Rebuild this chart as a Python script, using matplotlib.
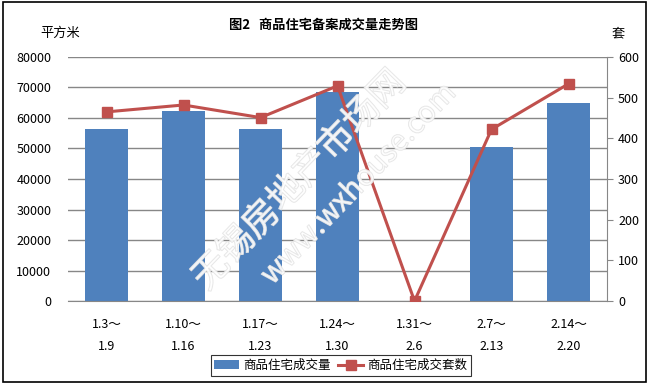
import matplotlib.pyplot as plt
import matplotlib.patheffects as pe
from matplotlib.patches import Rectangle

plt.rcParams['font.family'] = ['Noto Sans CJK SC', 'DejaVu Sans']

# data
weeks = ['1.3～\n1.9', '1.10～\n1.16', '1.17～\n1.23', '1.24～\n1.30',
         '1.31～\n2.6', '2.7～\n2.13', '2.14～\n2.20']
area = [56500, 62300, 56400, 68600, 0, 50500, 65000]
units = [465, 482, 451, 529, 0, 422, 534]

bar_color = '#4F81BD'
line_color = '#C0504D'
grid_color = '#878787'

fig = plt.figure(figsize=(6.49, 3.84), dpi=100)
ax = fig.add_axes([0.1048, 0.2161, 0.8305, 0.6355])
ax2 = ax.twinx()

x = range(len(weeks))
ax.bar(x, area, width=0.57, color=bar_color, zorder=2, label='商品住宅成交量')
ax2.plot(x, units, color=line_color, lw=2.2, marker='s', ms=7,
         label='商品住宅成交套数', zorder=3)

ax.set_xlim(-0.5, len(weeks) - 0.5)
ax.set_ylim(0, 80000)
ax.set_yticks(range(0, 80001, 10000))
ax2.set_ylim(0, 600)
ax2.set_yticks(range(0, 601, 100))
ax.yaxis.grid(True, color=grid_color, lw=1)
ax.set_axisbelow(True)

for a in (ax, ax2):
    for s in a.spines.values():
        s.set_visible(False)
ax2.spines['right'].set_visible(True)
ax2.spines['right'].set_color(grid_color)
ax.spines['bottom'].set_visible(True)
ax.spines['bottom'].set_color(grid_color)

ax.tick_params(axis='y', length=0, labelsize=9, pad=12)
ax.tick_params(axis='x', length=0, labelsize=9, pad=12)
ax2.tick_params(axis='y', length=4, color=grid_color, labelsize=9, pad=4)
ax.set_xticks(list(x))
ax.set_xticklabels(weeks, linespacing=1.9)

fig.text(0.498, 0.935, '图2   商品住宅备案成交量走势图', ha='center', va='center',
         fontsize=9.5, fontweight='bold')
fig.text(0.062, 0.912, '平方米', ha='left', va='center', fontsize=9.5)
fig.text(0.942, 0.912, '套', ha='left', va='center', fontsize=9.5)

# faint watermark
wm = [pe.withStroke(linewidth=0.8, foreground='#e2e2e2', alpha=0.9)]
fig.text(0.462, 0.53, '无锡房地产市场网', rotation=46, fontsize=26, color='white',
         alpha=0.35, fontweight='light', ha='center', va='center',
         path_effects=wm, zorder=5)
fig.text(0.553, 0.52, 'www.wxhouse.com', rotation=46, fontsize=21, color='white',
         alpha=0.35, ha='center', va='center', path_effects=wm, zorder=5)

h1, l1 = ax.get_legend_handles_labels()
h2, l2 = ax2.get_legend_handles_labels()
leg = fig.legend(h1 + h2, l1 + l2, loc='center', bbox_to_anchor=(0.525, 0.048),
                 ncol=2, fontsize=9, frameon=True, fancybox=False,
                 edgecolor='black', borderpad=0.3, handlelength=2.0,
                 columnspacing=0.6, handletextpad=0.3)
leg.get_frame().set_linewidth(0.8)

fig.patches.append(Rectangle((0.004, 0.006), 0.992, 0.988, transform=fig.transFigure,
                             fill=False, edgecolor='black', lw=1.2))

fig.savefig('out.png', dpi=100)
